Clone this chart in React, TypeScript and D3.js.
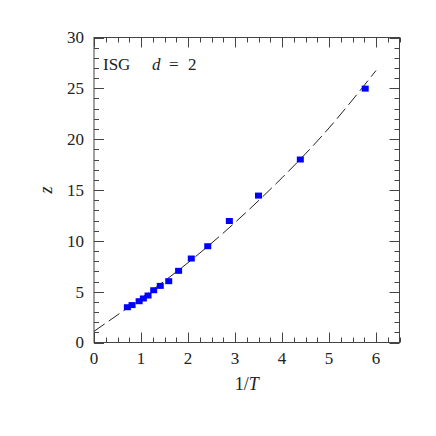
import React, { useEffect, useRef } from "react";
import * as d3 from "d3";

// measured points: inverse temperature vs z
const invT = [0.71, 0.81, 0.96, 1.05, 1.15, 1.27, 1.41, 1.59, 1.8, 2.07, 2.42, 2.88, 3.5, 4.39, 5.77];
const zVals = [3.47, 3.68, 4.06, 4.33, 4.62, 5.14, 5.57, 6.03, 7.05, 8.26, 9.47, 11.95, 14.45, 18.0, 24.97];

// dashed fit curve
const fitX = [0, 1, 2, 3, 4, 5, 6];
const fitZ = [1.1, 4.35, 7.85, 11.8, 16.2, 21.1, 26.75];

const xTicks = [0, 1, 2, 3, 4, 5, 6];
const yTicks = [0, 5, 10, 15, 20, 25, 30];

const W = 436;
const H = 436;
const left = 94, right = 399.5, top = 37.5, bottom = 342.5;
const FONT = "'Liberation Serif', 'DejaVu Serif', serif";

const App = () => {
  const ref = useRef<SVGSVGElement>(null);

  useEffect(() => {
    const svg = d3.select(ref.current);
    svg.selectAll("*").remove();

    const x = d3.scaleLinear().domain([0, 6.5]).range([left, right]);
    const y = d3.scaleLinear().domain([0, 30]).range([bottom, top]);
    const axisColor = "#444";

    const g = svg.append("g");

    // frame
    g.append("rect")
      .attr("x", left)
      .attr("y", top)
      .attr("width", right - left)
      .attr("height", bottom - top)
      .attr("fill", "none")
      .attr("stroke", axisColor)
      .attr("stroke-width", 1);

    // x ticks, bottom and top, inward
    const xMinor = d3.range(0, 6.5001, 0.25);
    xMinor.forEach((v) => {
      const major = Math.abs(v - Math.round(v)) < 1e-6;
      const len = major ? 10 : 5;
      const px = Math.round(x(v)) + 0.5;
      g.append("line").attr("x1", px).attr("x2", px)
        .attr("y1", bottom).attr("y2", bottom - len)
        .attr("stroke", axisColor);
      g.append("line").attr("x1", px).attr("x2", px)
        .attr("y1", top).attr("y2", top + len)
        .attr("stroke", axisColor);
    });

    // y ticks, left and right
    d3.range(0, 31, 1).forEach((v) => {
      const len = v % 5 === 0 ? 10 : 5;
      const py = Math.round(y(v)) + 0.5;
      g.append("line").attr("x1", left).attr("x2", left + len)
        .attr("y1", py).attr("y2", py).attr("stroke", axisColor);
      g.append("line").attr("x1", right).attr("x2", right - len)
        .attr("y1", py).attr("y2", py).attr("stroke", axisColor);
    });

    // tick labels
    g.selectAll(".xl")
      .data(xTicks)
      .enter()
      .append("text")
      .attr("x", (d) => x(d))
      .attr("y", 364)
      .attr("text-anchor", "middle")
      .attr("font-family", FONT)
      .attr("font-size", 17)
      .attr("fill", "#222")
      .text((d) => d);

    g.selectAll(".yl")
      .data(yTicks)
      .enter()
      .append("text")
      .attr("x", 84)
      .attr("y", (d) => y(d))
      .attr("dy", "0.35em")
      .attr("text-anchor", "end")
      .attr("font-family", FONT)
      .attr("font-size", 17)
      .attr("fill", "#222")
      .text((d) => d);

    // axis titles
    const xt = g.append("text")
      .attr("x", (left + right) / 2)
      .attr("y", 390)
      .attr("text-anchor", "middle")
      .attr("font-family", FONT)
      .attr("font-size", 18)
      .attr("fill", "#222");
    xt.append("tspan").text("1/");
    xt.append("tspan").attr("font-style", "italic").text("T");

    g.append("text")
      .attr("transform", `translate(52, ${(top + bottom) / 2}) rotate(-90)`)
      .attr("text-anchor", "middle")
      .attr("font-family", FONT)
      .attr("font-style", "italic")
      .attr("font-size", 18)
      .attr("fill", "#222")
      .text("z");

    // annotation
    const ann = g.append("text")
      .attr("x", 103)
      .attr("y", 70)
      .attr("font-family", FONT)
      .attr("font-size", 17)
      .attr("fill", "#222");
    ann.append("tspan").text("ISG");
    ann.append("tspan").attr("x", 152).attr("font-style", "italic").text("d");
    ann.append("tspan").attr("x", 169).text("=");
    ann.append("tspan").attr("x", 188).text("2");

    // dashed fit
    const fit = fitX.map((v, i) => [v, fitZ[i]] as [number, number]);
    const line = d3.line<[number, number]>()
      .x((d) => x(d[0]))
      .y((d) => y(d[1]))
      .curve(d3.curveNatural);
    g.append("path")
      .attr("d", line(fit))
      .attr("fill", "none")
      .attr("stroke", "#222")
      .attr("stroke-width", 1)
      .attr("stroke-dasharray", "13,5");

    // markers
    g.selectAll(".pt")
      .data(invT.map((v, i) => [v, zVals[i]]))
      .enter()
      .append("rect")
      .attr("x", (d) => x(d[0]) - 3.5)
      .attr("y", (d) => y(d[1]) - 3)
      .attr("width", 7)
      .attr("height", 6)
      .attr("fill", "#0000ff");
  }, []);

  return (
    <svg
      ref={ref}
      width={W}
      height={H}
      style={{ position: "absolute", left: 0, top: 0, background: "#fff" }}
    />
  );
};

export default App;
